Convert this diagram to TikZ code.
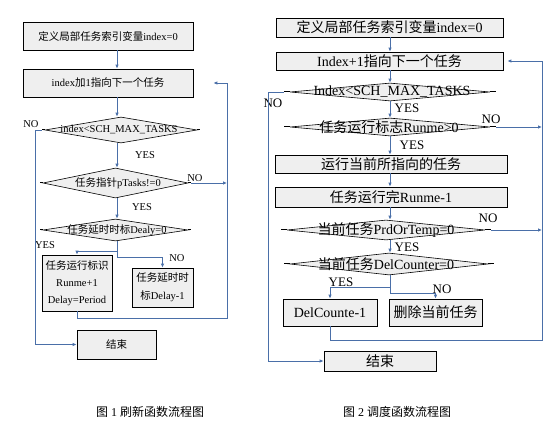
\documentclass[tikz,border=0pt]{standalone}
\usepackage{fontspec}
\setmainfont{Liberation Serif}
\newfontfamily\zhfont{Noto Sans CJK SC}
\newcommand{\zh}[1]{{\zhfont #1}}
\usetikzlibrary{shapes.geometric,arrows.meta}
\definecolor{lnblue}{HTML}{4A6FA8}
\definecolor{boxgray}{HTML}{EFEFEF}
\begin{document}
\begin{tikzpicture}[x=1pt,y=-1pt,
 box/.style={draw=black,fill=boxgray,line width=0.7pt,inner sep=0pt,align=center},
 dia/.style={shape=diamond,draw=black,fill=boxgray,line width=0.6pt,inner sep=0pt},
 lf/.style={font=\fontsize{10.5}{17}\selectfont},
 rf/.style={font=\fontsize{14}{16}\selectfont},
 rl/.style={font=\fontsize{13}{15}\selectfont},
 captxt/.style={font=\fontsize{12}{14}\selectfont},
 arr/.style={draw=lnblue,line width=0.8pt,-{Latex[length=4pt,width=3.5pt]}},
 ln/.style={draw=lnblue,line width=0.8pt},
 stub/.style={draw=black,line width=1pt},
 lbl/.style={inner sep=0pt}]
\useasboundingbox (0,0) rectangle (555,422);
% ---------------- left diagram ----------------
\coordinate (lx) at (117,0);
\coordinate (lno) at (35,0);
\coordinate (lloop) at (227,0);
\node[box,lf,minimum width=170pt,minimum height=28pt] (L1) at (108,36) {\zh{定义局部任务索引变量}index=0};
\node[box,lf,minimum width=170pt,minimum height=28pt] (L2) at (108,83) {index\zh{加}1\zh{指向下一个任务}};
\node[dia,minimum width=152pt,minimum height=26pt] (d1) at (121,130) {};
\node[lf,lbl] (d1t) at (119,130) {index<SCH\_MAX\_TASKS};
\node[dia,minimum width=145pt,minimum height=30pt] (d2) at (115.5,183) {};
\node[lf,lbl] (d2t) at (118,183) {\zh{任务指针}pTasks!=0};
\node[dia,minimum width=145pt,minimum height=22pt] (d3) at (115.5,230) {};
\node[lf,lbl] (d3t) at (117,230) {\zh{任务延时时标}Dealy=0};
\node[box,lf,minimum width=70pt,minimum height=56pt] (B3) at (77,283) {\zh{任务运行标识}\\Runme+1\\Delay=Period};
\node[box,font=\fontsize{10.5}{18}\selectfont,minimum width=61pt,minimum height=39pt] (B4) at (162.5,287.5) {\zh{任务延时时}\\\zh{标}Delay-1};
\node[box,lf,minimum width=79pt,minimum height=29pt] (LE) at (116.5,344.5) {\zh{结束}};
\node[lf,lbl] (lno1) at (31,124) {NO};
\node[lf,lbl] (lyes1) at (145,155) {YES};
\node[lf,lbl] (lno2) at (195,178) {NO};
\node[lf,lbl] (lyes2) at (142,207) {YES};
\node[lf,lbl] (lyes3) at (45,245) {YES};
\node[lf,lbl] (lno3) at (177,258) {NO};
\node[captxt,lbl] (cap1) at (150,412) {\zh{图} 1 \zh{刷新函数流程图}};
% stubs
\draw[stub] (d1.west) -- ++(-3,0);
\draw[stub] (d1.east) -- ++(3,0);
\draw[stub] (d2.west) -- ++(-3,0);
\draw[stub] (d2.east) -- ++(3,0);
\draw[stub] (d3.west) -- ++(-3,0);
\draw[stub] (d3.east) -- ++(3,0);
% connectors
\draw[arr] (L1.south -| lx) -- (L2.north -| lx);
\draw[arr] (L2.south -| lx) -- (d1.north -| lx);
\draw[arr] (d1.south -| lx) -- (d2.north -| lx);
\draw[arr] (d2.south -| lx) -- (d3.north -| lx);
\draw[arr] ([xshift=-3pt]d1.west) -- (d1.west -| lno) -- (lno |- LE.west) -- (LE.west);
\draw[arr] ([xshift=3pt]d2.east) -- (d2.east -| lloop);
\draw[arr] (d3.south -| lx) -- ++(0,10) -| (B3.north);
\draw[arr] (d3.south -| lx) -- ++(0,16) -| (B4.north);
\draw[ln] (B3.south) -- ++(0,7) -| (L2.east -| lloop);
\draw[arr] (L2.east -| lloop) -- ([xshift=20pt]L2.east);
% ---------------- right diagram ----------------
\coordinate (rx) at (390,0);
\coordinate (rno) at (268,0);
\coordinate (rloop) at (542,0);
\node[box,rf,minimum width=227pt,minimum height=19pt] (R1) at (389.5,27.5) {\zh{定义局部任务索引变量}index=0};
\node[box,rf,minimum width=227pt,minimum height=18pt] (R2) at (389.5,61) {Index+1\zh{指向下一个任务}};
\node[dia,minimum width=200pt,minimum height=18pt] (rd1) at (390,92) {};
\node[rf,lbl] (rd1t) at (392,92) {Index<SCH\_MAX\_TASKS};
\node[dia,minimum width=200pt,minimum height=18pt] (rd2) at (390,127) {};
\node[rf,lbl] (rd2t) at (389,127) {\zh{任务运行标志}Runme>0};
\node[box,rf,minimum width=232pt,minimum height=18pt] (RE) at (391,164) {\zh{运行当前所指向的任务}};
\node[box,rf,minimum width=232pt,minimum height=20pt] (RF) at (391,197) {\zh{任务运行完}Runme-1};
\node[dia,minimum width=198pt,minimum height=20pt] (rd3) at (386,230) {};
\node[rf,lbl] (rd3t) at (386,230) {\zh{当前任务}PrdOrTemp=0};
\node[dia,minimum width=198pt,minimum height=22pt] (rd4) at (389,264) {};
\node[rf,lbl] (rd4t) at (386,264) {\zh{当前任务}DelCounter=0};
\node[box,rf,minimum width=94pt,minimum height=27pt] (RI) at (330,312.5) {DelCounte-1};
\node[box,rf,minimum width=93pt,minimum height=27pt] (RJ) at (435.5,312.5) {\zh{删除当前任务}};
\node[box,rf,minimum width=112pt,minimum height=20pt] (RE2) at (380,361) {\zh{结束}};
\node[rl,lbl] (rno1) at (273,103) {NO};
\node[rl,lbl] (ryes1) at (407,108) {YES};
\node[rl,lbl] (rno2) at (491,119) {NO};
\node[rl,lbl] (ryes2) at (412,145) {YES};
\node[rl,lbl] (rno3) at (488,218) {NO};
\node[rl,lbl] (ryes3) at (407,247) {YES};
\node[rl,lbl] (ryes4) at (341,282) {YES};
\node[rl,lbl] (rno4) at (442,289) {NO};
\node[captxt,lbl] (cap2) at (397,412) {\zh{图} 2 \zh{调度函数流程图}};
% stubs
\foreach \d in {rd1,rd2,rd3,rd4}{
  \draw[stub] (\d.west) -- ++(-6,0);
  \draw[stub] (\d.east) -- ++(6,0);
}
% connectors
\draw[arr] (R1.south -| rx) -- (R2.north -| rx);
\draw[arr] (R2.south -| rx) -- (rd1.north -| rx);
\draw[arr] (rd1.south -| rx) -- (rd2.north -| rx);
\draw[arr] (rd2.south -| rx) -- (RE.north -| rx);
\draw[arr] (RE.south -| rx) -- (RF.north -| rx);
\draw[arr] (RF.south -| rx) -- (rd3.north -| rx);
\draw[arr] (rd3.south -| rx) -- (rd4.north -| rx);
\draw[arr] ([xshift=-6pt]rd1.west) -- (rd1.west -| rno) -- (rno |- RE2.west) -- (RE2.west);
\draw[arr] ([xshift=6pt]rd2.east) -- (rd2.east -| rloop);
\draw[arr] ([xshift=6pt]rd3.east) -- (rd3.east -| rloop);
\draw[arr] (rd4.south -| rx) -- ++(0,12) -| (RI.north);
\draw[arr] (rd4.south -| rx) -- ++(0,18) -| (RJ.north);
\draw[ln] (RI.south) -- ++(0,14) -| (R2.east -| rloop);
\draw[arr] (R2.east -| rloop) -- ([xshift=4pt]R2.east);
\end{tikzpicture}
\end{document}
